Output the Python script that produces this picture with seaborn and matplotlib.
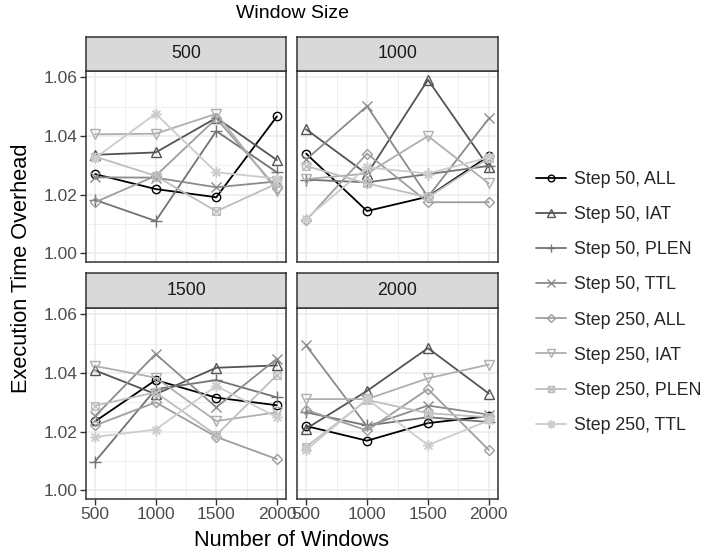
import numpy as np
import pandas as pd
import matplotlib
matplotlib.use("Agg")
import matplotlib.pyplot as plt
import seaborn as sns
from matplotlib.path import Path
from matplotlib.lines import Line2D

# ---------------- data ----------------
windows = [500, 1000, 1500, 2000]
window_sizes = ["500", "1000", "1500", "2000"]
series = ["Step 50, ALL", "Step 50, IAT", "Step 50, PLEN", "Step 50, TTL",
          "Step 250, ALL", "Step 250, IAT", "Step 250, PLEN", "Step 250, TTL"]

# rows follow `series`, columns follow `windows`
ws_500 = [
    [1.0270, 1.0219, 1.0191, 1.0467],
    [1.0336, 1.0344, 1.0462, 1.0318],
    [1.0182, 1.0110, 1.0417, 1.0276],
    [1.0259, 1.0258, 1.0225, 1.0245],
    [1.0174, 1.0264, 1.0460, 1.0222],
    [1.0406, 1.0408, 1.0476, 1.0214],
    [1.0330, 1.0264, 1.0143, 1.0238],
    [1.0325, 1.0476, 1.0276, 1.0255],
]
ws_1000 = [
    [1.0340, 1.0144, 1.0193, 1.0332],
    [1.0423, 1.0270, 1.0592, 1.0293],
    [1.0251, 1.0242, 1.0270, 1.0298],
    [1.0320, 1.0502, 1.0192, 1.0460],
    [1.0112, 1.0340, 1.0174, 1.0174],
    [1.0253, 1.0272, 1.0400, 1.0238],
    [1.0298, 1.0238, 1.0191, 1.0325],
    [1.0118, 1.0293, 1.0272, 1.0327],
]
ws_1500 = [
    [1.0235, 1.0376, 1.0316, 1.0290],
    [1.0409, 1.0328, 1.0418, 1.0426],
    [1.0098, 1.0345, 1.0376, 1.0317],
    [1.0253, 1.0465, 1.0283, 1.0449],
    [1.0221, 1.0300, 1.0182, 1.0106],
    [1.0424, 1.0384, 1.0236, 1.0266],
    [1.0289, 1.0334, 1.0188, 1.0393],
    [1.0182, 1.0207, 1.0356, 1.0249],
]
ws_2000 = [
    [1.0219, 1.0169, 1.0229, 1.0253],
    [1.0210, 1.0339, 1.0485, 1.0330],
    [1.0266, 1.0221, 1.0249, 1.0233],
    [1.0494, 1.0218, 1.0289, 1.0258],
    [1.0274, 1.0204, 1.0345, 1.0137],
    [1.0311, 1.0311, 1.0382, 1.0429],
    [1.0148, 1.0308, 1.0263, 1.0249],
    [1.0137, 1.0311, 1.0154, 1.0238],
]
panel_values = [ws_500, ws_1000, ws_1500, ws_2000]

rows = []
for ws, vals in zip(window_sizes, panel_values):
    for s, v in zip(series, vals):
        for w, y in zip(windows, v):
            rows.append({"Window Size": ws, "series": s, "windows": w, "overhead": y})
df = pd.DataFrame(rows)

# ---------------- style ----------------
sns.set_theme(style="white")
plt.rcParams["font.family"] = ["Liberation Sans", "DejaVu Sans"]

# grey palette like scale_colour_grey(start = 0, end = 0.8)
g = (np.linspace(0, 0.8 ** 2.2, 8)) ** (1 / 2.2)
palette = {s: (v, v, v) for s, v in zip(series, g)}

sq_cross = Path([(-1, -1), (1, -1), (1, 1), (-1, 1), (-1, -1),
                 (-1, -1), (1, 1), (-1, 1), (1, -1)],
                [Path.MOVETO, Path.LINETO, Path.LINETO, Path.LINETO, Path.LINETO,
                 Path.MOVETO, Path.LINETO, Path.MOVETO, Path.LINETO])
markers = {series[0]: "o", series[1]: "^", series[2]: "+", series[3]: "x",
           series[4]: "D", series[5]: "v", series[6]: sq_cross, series[7]: (8, 2, 0)}
msizes = {series[0]: 6, series[1]: 7, series[2]: 8, series[3]: 7,
          series[4]: 5.5, series[5]: 7, series[6]: 5.5, series[7]: 7.5}

W, H = 701, 556
fig = plt.figure(figsize=(W / 100, H / 100), dpi=100)

def fx(px):
    return px / W

def fy(py):
    return 1 - py / H

cols = [(86, 286), (297, 498)]
rws = [(37, 71, 262), (273, 308, 499)]

grey20 = "#333333"
grey30 = "#4D4D4D"
tick_fs = 12.5

for i, ws in enumerate(window_sizes):
    r, c = divmod(i, 2)
    x0, x1 = cols[c]
    st, pt, pb = rws[r]
    ax = fig.add_axes([fx(x0), fy(pb), fx(x1) - fx(x0), fy(pt) - fy(pb)])
    sax = fig.add_axes([fx(x0), fy(pt), fx(x1) - fx(x0), fy(st) - fy(pt)])
    sub = df[df["Window Size"] == ws]
    for s in series:
        d = sub[sub["series"] == s]
        sns.lineplot(data=d, x="windows", y="overhead", color=palette[s],
                     marker=markers[s], markersize=msizes[s],
                     markerfacecolor="none", markeredgecolor=palette[s],
                     markeredgewidth=1.0, linewidth=1.3, ax=ax, legend=False,
                     errorbar=None, sort=False)
    ax.set_xlim(425, 2075)
    ax.set_ylim(0.997, 1.0622)
    ax.set_xticks(windows)
    ax.set_yticks([1.00, 1.02, 1.04, 1.06])
    ax.set_xticks([750, 1250, 1750], minor=True)
    ax.set_yticks([1.01, 1.03, 1.05], minor=True)
    ax.grid(True, which="major", color="#EBEBEB", linewidth=1.1, zorder=0)
    ax.grid(True, which="minor", color="#EBEBEB", linewidth=0.55, zorder=0)
    ax.set_axisbelow(True)
    ax.set_facecolor("white")
    for sp in ax.spines.values():
        sp.set_color(grey20)
        sp.set_linewidth(1.1)
        sp.set_visible(True)
    ax.set_xlabel("")
    ax.set_ylabel("")
    ax.tick_params(which="minor", length=0)
    ax.tick_params(which="major", length=4, width=1.0, color=grey20,
                   labelsize=tick_fs, labelcolor=grey30, pad=2)
    if c == 0:
        ax.set_yticklabels(["1.00", "1.02", "1.04", "1.06"])
        ax.tick_params(axis="y", left=True)
    else:
        ax.tick_params(axis="y", left=False, labelleft=False)
    if r == 1:
        ax.set_xticklabels([str(w) for w in windows])
        ax.tick_params(axis="x", bottom=True)
    else:
        ax.tick_params(axis="x", bottom=False, labelbottom=False)

    sax.set_facecolor("#D9D9D9")
    sax.set_xticks([])
    sax.set_yticks([])
    for sp in sax.spines.values():
        sp.set_color(grey20)
        sp.set_linewidth(1.1)
        sp.set_visible(True)
    sax.text(0.5, 0.5, ws, ha="center", va="center", fontsize=12.8,
             color="#1A1A1A", transform=sax.transAxes)

fig.text(fx(292), fy(14), "Window Size", ha="center", va="center",
         fontsize=14, color="black")
fig.text(fx(292), fy(541), "Number of Windows", ha="center", va="center",
         fontsize=15.7, color="black")
fig.text(fx(22), fy(268), "Execution Time Overhead", ha="center", va="center",
         rotation=90, fontsize=15.7, color="black")

handles = [Line2D([], [], color=palette[s], marker=markers[s],
                  markersize=msizes[s] * 0.8, markerfacecolor="none",
                  markeredgecolor=palette[s], markeredgewidth=1.0, linewidth=1.3)
           for s in series]
fig.legend(handles, series, loc="upper left", bbox_to_anchor=(fx(536), fy(171)),
           frameon=False, fontsize=12.8, handlelength=1.7, handletextpad=0.45,
           labelspacing=1.02, borderpad=0, borderaxespad=0)

fig.savefig("out.png", dpi=100)
